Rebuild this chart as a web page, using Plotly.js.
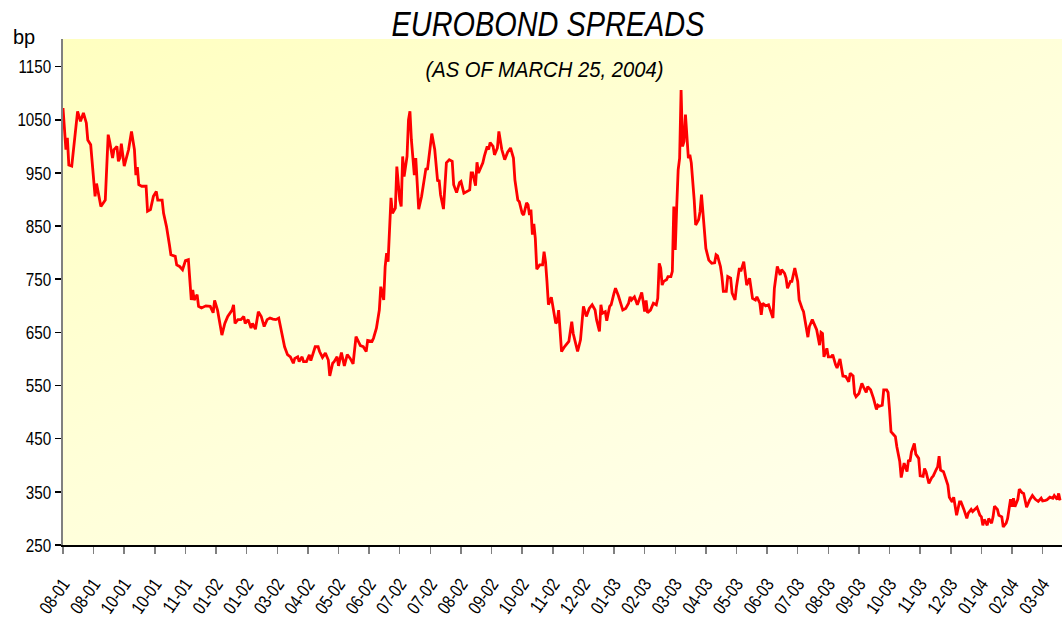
<!DOCTYPE html>
<html>
<head>
<meta charset="utf-8">
<script src="https://cdn.plot.ly/plotly-3.0.1.min.js"></script>
<style>
  html, body { margin: 0; padding: 0; background: #ffffff; overflow: hidden; }
  #wrap { position: relative; width: 1062px; height: 622px; overflow: hidden; }
  #bg { position: absolute; left: 63px; top: 39px; width: 999px; height: 506px;
        background: linear-gradient(155deg, #ffffc0 0%, #ffffd8 45%, #fffff0 100%); }
  #chart { position: absolute; left: 0; top: 0; width: 1062px; height: 622px; }
</style>
</head>
<body>
<div id="wrap"><div id="bg"></div><div id="chart"></div></div>
<script>
// observation number (trading day since start of series)
const obs = [
0,2,3,4,6,8,10,12,14,16,17,19,21,22,23,25,26,29,31,32,34,35,37,38,39,40,42,45,47,49,50,51,52,54,57,58,60,62,64,65,68,69,71,73,74,77,78,80,82,84,86,88,89,90,92,93,95,98,101,103,104,106,108,109,111,113,116,117,118,120,122,124,125,127,129,130,132,134,136,138,140,142,144,146,148,150,152,154,156,158,159,161,162,164,165,167,169,170,173,175,
176,178,180,182,183,185,186,188,189,191,193,195,197,199,201,204,206,208,209,212,213,215,216,217,218,220,221,222,223,224,225,226,228,229,231,232,233,234,236,237,238,239,241,242,244,246,248,249,250,252,253,255,257,258,259,261,263,265,267,268,270,272,273,275,277,279,280,281,283,284,285,288,289,291,292,293,295,296,298,299,301,303,305,307,309,310,312,313,315,316,318,319,320,321,322,323,324,325,327,329,330,331,332,333,335,336,338,339,340,
342,344,347,349,350,353,355,356,357,359,361,363,365,366,368,369,370,372,373,375,376,378,379,381,382,384,386,388,389,390,392,393,394,396,397,398,399,400,401,403,405,407,408,409,410,411,412,414,415,417,418,419,420,421,422,423,424,425,426,427,429,430,431,433,434,436,437,438,440,441,443,445,447,448,449,451,452,453,455,456,458,459,461,462,464,465,467,468,469,471,472,473,475,476,478,479,480,482,484,485,487,488,490,492,493,495,496,497,499,500,502,504,505,
507,508,511,512,514,516,517,519,520,521,522,524,525,527,528,530,531,533,535,537,539,540,542,543,544,546,548,549,551,552,554,556,558,559,560,562,563,565,566,567,568,570,571,572,574,575,576,577,579,580,581,582,584,585,587,588,590,591,592,594,596,597,599,600,601,602,604,605,607,608,610,611,613,615,616,618,620,621,623,624,627,629,630,631,632,634,635,637,638,639,641,642,644,645,647,648,650,651,652,653,655,656,658,659,661,663,665,667,669,671,672,674,675,677,679,680,682,683,684
];
// spread over benchmark, basis points
const spread = [
1072,994,1016,965,963,1019,1066,1047,1063,1044,1012,1003,925,906,930,896,887,899,1022,1009,978,994,1000,972,978,1005,963,994,1028,994,946,961,928,925,925,878,881,906,915,899,899,874,849,815,796,793,777,774,768,785,787,711,730,711,721,699,696,700,699,687,710,692,658,645,667,680,692,702,667,674,674,680,667,674,658,667,656,689,680,661,674,677,675,674,677,648,623,608,604,592,601,604,595,604,595,595,608,597,623,623,
614,603,611,598,568,592,595,604,587,612,587,608,601,591,642,625,623,614,635,633,639,658,677,692,736,711,774,799,783,856,903,874,884,962,899,887,981,943,981,1050,1066,1012,946,978,882,906,937,959,956,1000,1024,994,934,937,909,882,969,975,972,928,913,932,934,912,915,918,950,950,926,970,950,969,981,1000,994,1007,1000,984,997,1028,994,975,989,997,978,937,899,896,874,871,894,890,871,881,834,854,827,769,777,777,802,783,746,702,716,699,667,670,692,
614,623,633,670,648,614,636,667,699,680,695,702,692,674,652,702,686,689,672,699,702,724,733,719,711,692,695,705,717,711,717,708,702,717,725,708,689,710,687,692,705,702,714,780,771,739,746,749,755,755,765,887,805,887,956,978,1106,1000,1009,1060,978,984,969,899,852,862,877,909,843,808,786,780,781,796,794,774,755,727,727,755,752,724,711,736,771,765,783,755,739,752,730,714,711,717,705,683,705,700,702,692,677,733,774,758,768,761,752,733,746,746,771,746,711,
695,689,641,661,674,660,655,626,650,648,604,620,604,604,608,589,583,600,568,567,557,573,568,535,529,535,554,548,537,548,542,526,505,513,511,513,542,542,537,504,463,457,454,435,407,377,388,404,388,410,407,425,441,421,413,380,379,394,388,366,377,380,392,397,417,391,388,379,363,340,331,340,306,331,331,317,300,310,317,313,321,306,303,287,298,287,300,291,303,323,317,306,303,284,291,300,336,322,338,322,336,355,348,347,321,334,343,336,332,338,333,334,335,340,338,343,336,347,334
];
const tickLabels = ["08-01","08-01","10-01","10-01","11-01","01-02","01-02","03-02","04-02","05-02","06-02","07-02","07-02","08-02","09-02","10-02","11-02","12-02","01-03","02-03","03-03","04-03","05-03","06-03","07-03","08-03","09-03","10-03","11-03","12-03","01-04","02-04","03-04"];
const obsPerLabel = 21;
const tickPositions = tickLabels.map((_, i) => i * obsPerLabel);

const FONT = "'Liberation Sans', Arial, sans-serif";

const trace = {
  x: obs, y: spread, type: 'scatter', mode: 'lines',
  line: { color: '#ff0000', width: 2.8 },
  hoverinfo: 'skip'
};

const layout = {
  width: 1062, height: 622,
  margin: { l: 63, r: 0, t: 39, b: 77 },
  paper_bgcolor: 'rgba(0,0,0,0)',
  plot_bgcolor: 'rgba(0,0,0,0)',
  showlegend: false,
  font: { family: FONT, color: '#000000' },
  title: {
    text: '<i>EUROBOND SPREADS</i>',
    font: { family: FONT, size: 35, color: '#000000' },
    x: 0.516, xanchor: 'center', y: 0.962, yanchor: 'middle', yref: 'container'
  },
  xaxis: {
    range: [0, 685.3],
    tickmode: 'array', tickvals: tickPositions, ticktext: tickLabels,
    tickangle: -55,
    tickfont: { family: FONT, size: 18.5, color: '#000000' },
    ticklabelstandoff: 12,
    ticks: 'outside', ticklen: 7, tickwidth: 1.5, tickcolor: '#808080',
    showline: true, linecolor: '#000000', linewidth: 2,
    showgrid: false, zeroline: false
  },
  yaxis: {
    range: [250, 1202],
    tickmode: 'linear', tick0: 250, dtick: 100,
    tickfont: { family: FONT, size: 19, color: '#000000' },
    ticks: 'outside', ticklen: 6, tickwidth: 1.5, tickcolor: '#000000',
    showline: true, linecolor: '#808080', linewidth: 2,
    showgrid: false, zeroline: false
  },
  annotations: [
    { text: 'bp', xref: 'paper', yref: 'paper', x: -0.039, y: 1.004,
      xanchor: 'center', yanchor: 'middle', showarrow: false,
      font: { family: FONT, size: 20, color: '#000000' } },
    { text: '<i>(AS OF MARCH 25, 2004)</i>', xref: 'paper', yref: 'paper', x: 0.4815, y: 0.939,
      xanchor: 'center', yanchor: 'middle', showarrow: false,
      font: { family: FONT, size: 22, color: '#000000' } }
  ]
};

// horizontally condense text glyphs (narrow typeface look), keeping anchors in place
function condense(nodes, k) {
  nodes.forEach(t => {
    const x = parseFloat(t.getAttribute('x')) || 0;
    const y = parseFloat(t.getAttribute('y')) || 0;
    const prev = t.getAttribute('transform') || '';
    t.setAttribute('transform',
      (prev + ' translate(' + x + ',' + y + ') scale(' + k + ',1) translate(' + (-x) + ',' + (-y) + ')').trim());
  });
}

Plotly.newPlot('chart', [trace], layout, { displayModeBar: false, staticPlot: true }).then(gd => {
  condense(gd.querySelectorAll('.gtitle'), 0.825);
  condense(gd.querySelectorAll('.xtick text'), 0.8);
  condense(gd.querySelectorAll('.ytick text'), 0.8);
  const ann = gd.querySelectorAll('.annotation-text');
  if (ann.length > 1) condense([ann[1]], 0.92);
});
</script>
</body>
</html>
